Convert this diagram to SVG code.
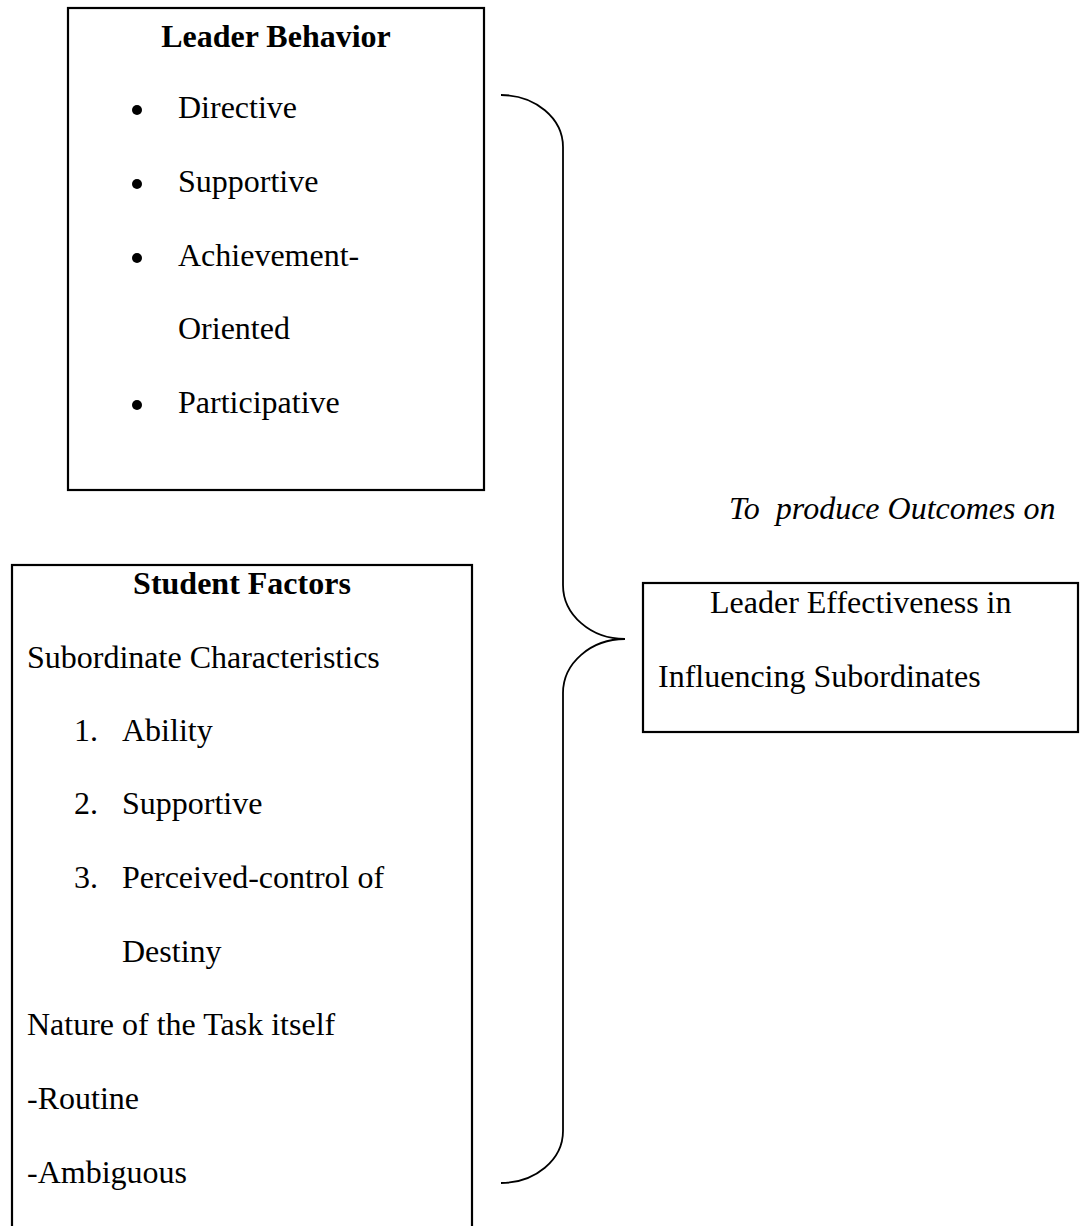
<svg xmlns="http://www.w3.org/2000/svg" width="1081" height="1226" viewBox="0 0 1081 1226">
<style>
.box{fill:none;stroke:#000;stroke-width:2.2}
.t{font-family:"Liberation Serif","Times New Roman",serif;font-size:32px;fill:#000}
.b{font-weight:bold}
.i{font-style:italic}
.brace{fill:none;stroke:#000;stroke-width:1.8}
</style>
<rect width="1081" height="1226" fill="#fff"/>
<g id="leader-behavior">
<rect class="box" x="68" y="8" width="416" height="482"/>
<text class="t b" x="276" y="47" text-anchor="middle">Leader Behavior</text>
<circle cx="137" cy="110" r="5"/>
<text class="t" x="178" y="118">Directive</text>
<circle cx="137" cy="184" r="5"/>
<text class="t" x="178" y="192">Supportive</text>
<circle cx="137" cy="258" r="5"/>
<text class="t" x="178" y="266">Achievement-</text>
<text class="t" x="178" y="339">Oriented</text>
<circle cx="137" cy="405" r="5"/>
<text class="t" x="178" y="413">Participative</text>
</g>
<g id="student-factors">
<rect class="box" x="12" y="565" width="460" height="700"/>
<text class="t b" x="242" y="594" text-anchor="middle">Student Factors</text>
<text class="t" x="27" y="668">Subordinate Characteristics</text>
<text class="t" x="74" y="741">1.</text>
<text class="t" x="122" y="741">Ability</text>
<text class="t" x="74" y="814">2.</text>
<text class="t" x="122" y="814">Supportive</text>
<text class="t" x="74" y="888">3.</text>
<text class="t" x="122" y="888">Perceived-control of</text>
<text class="t" x="122" y="962">Destiny</text>
<text class="t" x="27" y="1035">Nature of the Task itself</text>
<text class="t" x="27" y="1109">-Routine</text>
<text class="t" x="27" y="1183">-Ambiguous</text>
</g>
<g id="outcome-label">
<text class="t i" x="729" y="519" xml:space="preserve">To  produce Outcomes on</text>
</g>
<g id="leader-effectiveness">
<rect class="box" x="643" y="583" width="435" height="149"/>
<text class="t" x="710" y="613">Leader Effectiveness in</text>
<text class="t" x="658" y="687">Influencing Subordinates</text>
</g>
<g id="connectors">
<path class="brace" d="M501,95 A62,52 0 0 1 563,147 L563,585 A62,54 0 0 0 625,639 A62,54 0 0 0 563,693 L563,1131 A62,52 0 0 1 501,1183"/>
</g>
</svg>
